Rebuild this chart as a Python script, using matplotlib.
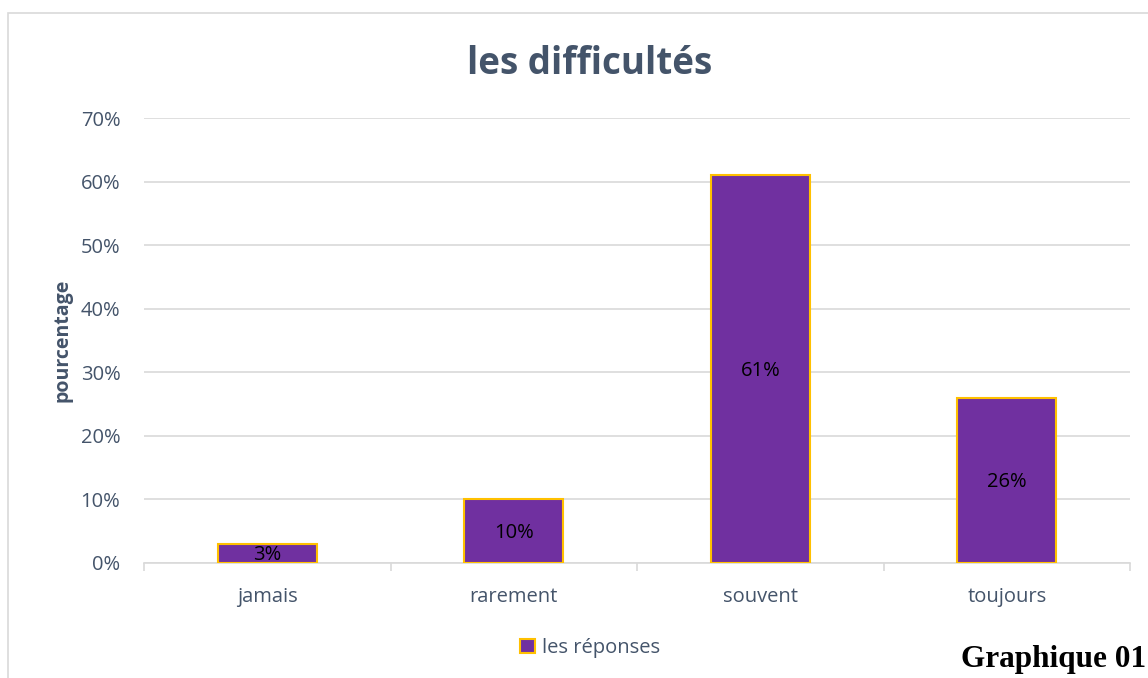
import numpy as np
import matplotlib.pyplot as plt
from matplotlib.patches import Rectangle

categories = ['jamais', 'rarement', 'souvent', 'toujours']
values = [3, 10, 61, 26]
labels = ['3%', '10%', '61%', '26%']
yticks = [0, 10, 20, 30, 40, 50, 60, 70]

plt.rcParams['font.family'] = ['Open Sans', 'DejaVu Sans']
txt_col = '#44546A'
grid_col = '#D9D9D9'

fig = plt.figure(figsize=(11.48, 6.78), dpi=100)
# chart area border
fig.patches.append(Rectangle((8 / 1148, -0.05), 1.2, 1 - 13 / 678 + 0.05,
                             transform=fig.transFigure, fill=False,
                             edgecolor=grid_col, linewidth=1.2))

ax = fig.add_axes([144 / 1148, 115 / 678, 986 / 1148, 445 / 678])
x = np.arange(len(categories))
bars = ax.bar(x, values, width=0.4, color='#7030A0', edgecolor='#FFC000',
              linewidth=1.5, label='les réponses', zorder=3)
for b, lab in zip(bars, labels):
    ax.text(b.get_x() + b.get_width() / 2, b.get_height() / 2 - 0.3, lab,
            ha='center', va='center', fontsize=14.5, color='black', zorder=4)

ax.set_xlim(-0.5, len(categories) - 0.5)
ax.set_ylim(0, 70)
ax.set_yticks(yticks)
ax.set_yticklabels(['{}%'.format(t) for t in yticks])
ax.yaxis.grid(True, color=grid_col, linewidth=1.2, zorder=0)
ax.set_xticks(x)
ax.set_xticklabels(categories)
ax.set_xticks(np.arange(-0.5, len(categories)), minor=True)
ax.tick_params(axis='x', which='major', length=0, pad=17, labelsize=14.5, colors=txt_col)
ax.tick_params(axis='x', which='minor', length=6, color=grid_col, width=1.2)
ax.tick_params(axis='y', length=0, pad=17, labelsize=14.5, colors=txt_col)
for s in ['top', 'right', 'left']:
    ax.spines[s].set_visible(False)
ax.spines['bottom'].set_color(grid_col)
ax.spines['bottom'].set_linewidth(1.2)

ax.set_ylabel('pourcentage', fontsize=14, fontweight='bold', color=txt_col, labelpad=6)
fig.text(590 / 1148, 1 - 64 / 678, 'les difficultés', ha='center', va='center',
         fontsize=26.5, fontweight='bold', color=txt_col)

leg = fig.legend(loc='center', bbox_to_anchor=(590 / 1148, 1 - 648 / 678), frameon=False,
                 fontsize=14.5, handlelength=0.75, handleheight=0.75, handletextpad=0.3)
for t in leg.get_texts():
    t.set_color(txt_col)

fig.text(1146 / 1148, 1 - 659 / 678, 'Graphique 01', ha='right', va='center',
         fontsize=22.5, fontweight='bold', family='Liberation Serif', color='black')

plt.savefig('out.png', dpi=100)
